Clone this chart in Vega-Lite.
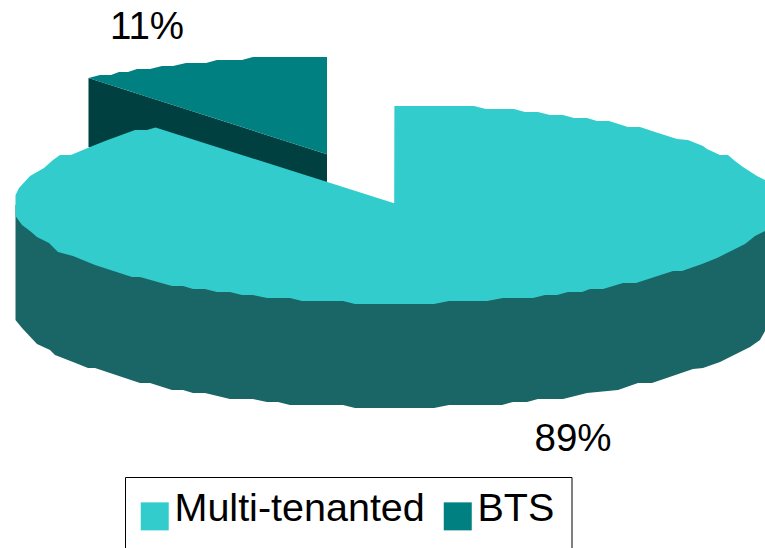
{"$schema":"https://vega.github.io/schema/vega-lite/v6.json","width":765,"height":548,"autosize":"none","padding":0,"background":"white","view":{"stroke":null},
"config":{"font":"Liberation Sans"},
"datasets":{
"btsSide":[{"x":88.5,"y":78,"y2":147},{"x":155,"y":99.3,"y2":166},{"x":327,"y":154.3,"y2":182}],
"btsTop":[{"slice":"BTS","x":88.5,"y":78,"y2":78},{"slice":"BTS","x":100,"y":75,"y2":81.7},{"slice":"BTS","x":111,"y":75,"y2":85.2},{"slice":"BTS","x":119,"y":72,"y2":87.8},{"slice":"BTS","x":128,"y":72,"y2":90.6},{"slice":"BTS","x":137,"y":69,"y2":93.5},{"slice":"BTS","x":150,"y":69,"y2":97.7},{"slice":"BTS","x":162,"y":66,"y2":101.5},{"slice":"BTS","x":173,"y":66,"y2":105},{"slice":"BTS","x":186,"y":63,"y2":109.2},{"slice":"BTS","x":206,"y":63,"y2":115.6},{"slice":"BTS","x":217,"y":60,"y2":119.1},{"slice":"BTS","x":242,"y":60,"y2":127.1},{"slice":"BTS","x":253,"y":57,"y2":130.6},{"slice":"BTS","x":327,"y":57,"y2":154.3}],
"side":[{"x":15.5,"y":320},{"x":22,"y":328},{"x":37,"y":344},{"x":50,"y":350},{"x":55,"y":355},{"x":73,"y":362},{"x":88,"y":368},{"x":95,"y":368},{"x":140,"y":383},{"x":150,"y":383},{"x":172,"y":390},{"x":183,"y":390},{"x":193,"y":393},{"x":205,"y":393},{"x":230,"y":399},{"x":253,"y":399},{"x":267,"y":402},{"x":278,"y":402},{"x":290,"y":405},{"x":343,"y":405},{"x":355,"y":408},{"x":434,"y":408},{"x":449,"y":405},{"x":502,"y":405},{"x":513,"y":402},{"x":527,"y":402},{"x":538,"y":399},{"x":563,"y":399},{"x":587,"y":393},{"x":618,"y":390},{"x":638,"y":383},{"x":652,"y":383},{"x":693,"y":369},{"x":703,"y":368},{"x":720,"y":362},{"x":750,"y":347},{"x":760,"y":340},{"x":765,"y":331}],
"topUpper":[{"slice":"Multi-tenanted","x":15.5,"y":195},{"slice":"Multi-tenanted","x":19,"y":188},{"slice":"Multi-tenanted","x":30,"y":176},{"slice":"Multi-tenanted","x":44,"y":168},{"slice":"Multi-tenanted","x":53,"y":160},{"slice":"Multi-tenanted","x":60,"y":155},{"slice":"Multi-tenanted","x":71,"y":155},{"slice":"Multi-tenanted","x":90,"y":147},{"slice":"Multi-tenanted","x":105,"y":141},{"slice":"Multi-tenanted","x":135,"y":130},{"slice":"Multi-tenanted","x":147,"y":130},{"slice":"Multi-tenanted","x":155.5,"y":127.5},{"slice":"Multi-tenanted","x":394.2,"y":203.3},{"slice":"Multi-tenanted","x":394.4,"y":106},{"slice":"Multi-tenanted","x":474,"y":106},{"slice":"Multi-tenanted","x":486,"y":109},{"slice":"Multi-tenanted","x":514,"y":109},{"slice":"Multi-tenanted","x":525,"y":112},{"slice":"Multi-tenanted","x":538,"y":112},{"slice":"Multi-tenanted","x":550,"y":115},{"slice":"Multi-tenanted","x":563,"y":115},{"slice":"Multi-tenanted","x":574,"y":118},{"slice":"Multi-tenanted","x":587,"y":118},{"slice":"Multi-tenanted","x":597,"y":121},{"slice":"Multi-tenanted","x":609,"y":121},{"slice":"Multi-tenanted","x":628,"y":127},{"slice":"Multi-tenanted","x":640,"y":127},{"slice":"Multi-tenanted","x":652,"y":131},{"slice":"Multi-tenanted","x":677,"y":139},{"slice":"Multi-tenanted","x":688,"y":140},{"slice":"Multi-tenanted","x":703,"y":146},{"slice":"Multi-tenanted","x":707,"y":149},{"slice":"Multi-tenanted","x":720,"y":155},{"slice":"Multi-tenanted","x":728,"y":155},{"slice":"Multi-tenanted","x":735,"y":161},{"slice":"Multi-tenanted","x":743,"y":167},{"slice":"Multi-tenanted","x":757,"y":176},{"slice":"Multi-tenanted","x":765,"y":180}],
"topLower":[{"slice":"Multi-tenanted","x":15.5,"y":216},{"slice":"Multi-tenanted","x":22,"y":225},{"slice":"Multi-tenanted","x":30,"y":231},{"slice":"Multi-tenanted","x":37,"y":237},{"slice":"Multi-tenanted","x":49,"y":243},{"slice":"Multi-tenanted","x":58,"y":252},{"slice":"Multi-tenanted","x":73,"y":256},{"slice":"Multi-tenanted","x":95,"y":265},{"slice":"Multi-tenanted","x":132,"y":277},{"slice":"Multi-tenanted","x":140,"y":277},{"slice":"Multi-tenanted","x":172,"y":286},{"slice":"Multi-tenanted","x":183,"y":286},{"slice":"Multi-tenanted","x":193,"y":289},{"slice":"Multi-tenanted","x":205,"y":289},{"slice":"Multi-tenanted","x":217,"y":292},{"slice":"Multi-tenanted","x":230,"y":292},{"slice":"Multi-tenanted","x":242,"y":295},{"slice":"Multi-tenanted","x":253,"y":295},{"slice":"Multi-tenanted","x":267,"y":298},{"slice":"Multi-tenanted","x":290,"y":298},{"slice":"Multi-tenanted","x":302,"y":301},{"slice":"Multi-tenanted","x":343,"y":301},{"slice":"Multi-tenanted","x":355,"y":304},{"slice":"Multi-tenanted","x":434,"y":304},{"slice":"Multi-tenanted","x":449,"y":301},{"slice":"Multi-tenanted","x":487,"y":301},{"slice":"Multi-tenanted","x":503,"y":298},{"slice":"Multi-tenanted","x":533,"y":298},{"slice":"Multi-tenanted","x":545,"y":295},{"slice":"Multi-tenanted","x":557,"y":295},{"slice":"Multi-tenanted","x":568,"y":292},{"slice":"Multi-tenanted","x":582,"y":292},{"slice":"Multi-tenanted","x":590,"y":289},{"slice":"Multi-tenanted","x":603,"y":289},{"slice":"Multi-tenanted","x":623,"y":283},{"slice":"Multi-tenanted","x":636,"y":283},{"slice":"Multi-tenanted","x":673,"y":271},{"slice":"Multi-tenanted","x":682,"y":271},{"slice":"Multi-tenanted","x":702,"y":264},{"slice":"Multi-tenanted","x":717,"y":258},{"slice":"Multi-tenanted","x":745,"y":244},{"slice":"Multi-tenanted","x":755,"y":236},{"slice":"Multi-tenanted","x":765,"y":231}],
"labels":[{"x":147,"y":39,"label":"11%"},{"x":573,"y":451,"label":"89%"}],
"frame":[{"x":125.5,"x2":572,"y":477.5,"y2":560}]
},
"layer":[
{"data":{"name":"btsSide"},"mark":{"type":"area","color":"#004040"},"encoding":{"x":{"field":"x","type":"quantitative","scale":{"domain":[0,765],"nice":false,"zero":false},"axis":null},"y":{"field":"y","type":"quantitative","scale":{"domain":[548,0],"nice":false,"zero":false},"axis":null},"y2":{"field":"y2"}}},
{"data":{"name":"btsTop"},"mark":{"type":"area"},"encoding":{"x":{"field":"x","type":"quantitative","axis":null},"y":{"field":"y","type":"quantitative","axis":null},"y2":{"field":"y2"},
"color":{"field":"slice","type":"nominal","scale":{"domain":["Multi-tenanted","BTS"],"range":["#33CCCC","#008080"]},"legend":{"title":null,"orient":"none","legendX":135,"legendY":496.5,"direction":"horizontal","columns":2,"columnPadding":13,"padding":0,"symbolType":"square","symbolSize":784,"symbolStrokeWidth":0,"labelFontSize":39.5,"labelFont":"Liberation Sans","labelColor":"#000000","labelOffset":0,"labelLimit":400,"encode":{"labels":{"update":{"dy":{"value":-7}}}}}}}},
{"data":{"name":"side"},"mark":{"type":"area","color":"#1A6666"},"encoding":{"x":{"field":"x","type":"quantitative","axis":null},"y":{"field":"y","type":"quantitative","axis":null},"y2":{"datum":205}}},
{"data":{"name":"topLower"},"mark":{"type":"area"},"encoding":{"x":{"field":"x","type":"quantitative","axis":null},"y":{"field":"y","type":"quantitative","axis":null},"y2":{"datum":205},"color":{"field":"slice","type":"nominal"}}},
{"data":{"name":"topUpper"},"mark":{"type":"area"},"encoding":{"x":{"field":"x","type":"quantitative","axis":null},"y":{"field":"y","type":"quantitative","axis":null},"y2":{"datum":206},"color":{"field":"slice","type":"nominal"}}},
{"data":{"name":"labels"},"mark":{"type":"text","fontSize":38.5,"font":"Liberation Sans","color":"#000000","align":"center","baseline":"alphabetic"},"encoding":{"x":{"field":"x","type":"quantitative","axis":null},"y":{"field":"y","type":"quantitative","axis":null},"text":{"field":"label"}}},
{"data":{"name":"frame"},"mark":{"type":"rect","fill":null,"stroke":"#000000","strokeWidth":1},"encoding":{"x":{"field":"x","type":"quantitative","axis":null},"x2":{"field":"x2"},"y":{"field":"y","type":"quantitative","axis":null},"y2":{"field":"y2"}}}
]}
